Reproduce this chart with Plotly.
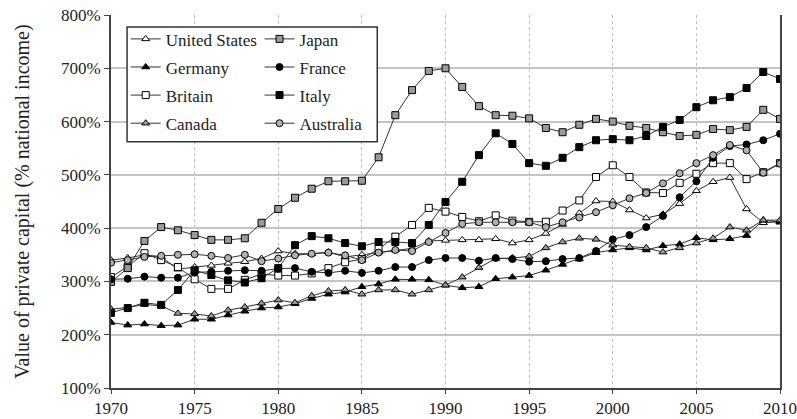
import plotly.graph_objects as go

years = list(range(1970, 2011))

united_states = [340, 344, 350, 346, 323, 327, 330, 334, 337, 343,
                 357, 352, 352, 355, 346, 350, 355, 359, 362, 376,
                 377, 378, 378, 380, 372, 378, 390, 407, 428, 451,
                 450, 434, 419, 426, 446, 470, 487, 495, 436, 410, 412]
germany = [223, 218, 220, 217, 218, 229, 229, 237, 244, 250,
           252, 258, 268, 276, 280, 290, 295, 304, 304, 303,
           293, 288, 290, 305, 308, 311, 321, 332, 342, 354,
           359, 363, 359, 367, 370, 382, 378, 380, 386, 415, 411]
britain = [308, 328, 353, 340, 327, 304, 286, 286, 303, 314,
           311, 311, 315, 325, 336, 342, 361, 384, 406, 438,
           431, 421, 413, 424, 414, 412, 412, 433, 452, 496,
           518, 496, 467, 466, 485, 502, 522, 522, 492, 505, 522]
canada = [248, 251, 257, 254, 240, 239, 235, 246, 252, 259,
          265, 260, 273, 282, 284, 276, 284, 284, 276, 284,
          293, 308, 326, 343, 344, 347, 363, 374, 381, 379,
          368, 365, 363, 355, 363, 372, 381, 402, 396, 415, 415]
japan = [299, 325, 376, 402, 396, 387, 378, 378, 381, 410,
         436, 457, 474, 488, 488, 489, 533, 612, 659, 695,
         700, 665, 629, 612, 611, 606, 588, 580, 594, 605,
         600, 592, 588, 580, 573, 575, 586, 584, 590, 622, 605]
france = [304, 305, 309, 307, 307, 317, 318, 320, 321, 320,
          324, 325, 318, 316, 320, 316, 320, 327, 327, 340,
          344, 344, 339, 344, 342, 337, 338, 342, 344, 357,
          379, 387, 402, 423, 458, 488, 532, 554, 557, 565, 577]
italy = [241, 250, 260, 256, 284, 321, 312, 302, 298, 306,
         325, 368, 385, 381, 372, 366, 374, 374, 372, 406,
         449, 487, 537, 578, 558, 522, 517, 532, 552, 565,
         567, 565, 573, 590, 603, 627, 640, 646, 663, 693, 680]
australia = [335, 340, 346, 348, 350, 351, 348, 344, 350, 338,
             343, 349, 352, 354, 349, 340, 354, 359, 357, 374,
             391, 408, 411, 411, 411, 411, 402, 411, 420, 430,
             443, 456, 466, 484, 503, 522, 537, 556, 546, 504, 521]

y_ticks = [100, 200, 300, 400, 500, 600, 700, 800]
x_ticks = [1970, 1975, 1980, 1985, 1990, 1995, 2000, 2005, 2010]

GRAY = "#9a9a9a"
LINE = "#333333"
FONT = "Liberation Serif"

series = [
    ("United States", united_states, "triangle-up", "white", 7, "legend"),
    ("Germany", germany, "triangle-up", "black", 7, "legend"),
    ("Britain", britain, "square", "white", 7, "legend"),
    ("Canada", canada, "triangle-up", GRAY, 7, "legend"),
    ("Japan", japan, "square", GRAY, 7, "legend2"),
    ("France", france, "circle", "black", 7, "legend2"),
    ("Italy", italy, "square", "black", 7, "legend2"),
    ("Australia", australia, "circle", "#b0b0b0", 7, "legend2"),
]

fig = go.Figure()
for name, vals, sym, fill, size, leg in series:
    fig.add_trace(go.Scatter(
        x=years, y=vals, name=name, mode="lines+markers",
        legend=leg, legendgroup=name,
        line=dict(color=LINE, width=1),
        marker=dict(symbol=sym, size=size, color=fill,
                    line=dict(color="black", width=1)),
    ))

legend_common = dict(
    bgcolor="rgba(0,0,0,0)", borderwidth=0,
    font=dict(family=FONT, size=17, color="#222"),
    tracegroupgap=3, itemwidth=30,
    yanchor="top", xanchor="left",
)

fig.update_layout(
    width=797, height=419,
    margin=dict(l=111, r=17, t=15, b=31),
    paper_bgcolor="white", plot_bgcolor="white",
    font=dict(family=FONT, color="#222"),
    showlegend=True,
    legend=dict(x=0.022, y=0.983, **legend_common),
    legend2=dict(x=0.222, y=0.983, **legend_common),
    xaxis=dict(
        range=[1970, 2010], tickvals=x_ticks,
        ticktext=[str(v) for v in x_ticks],
        showgrid=True, gridcolor="#c0c0c0", griddash="dot", gridwidth=1,
        showline=True, linecolor="#444", linewidth=2, mirror=False,
        ticks="outside", ticklen=4, tickcolor="#444",
        tickfont=dict(family=FONT, size=17, color="#222"),
        zeroline=False, automargin=False,
    ),
    yaxis=dict(
        range=[100, 800], tickvals=y_ticks,
        ticktext=[f"{v}%" for v in y_ticks],
        showgrid=True, gridcolor="#c4c4c4", gridwidth=2,
        showline=True, linecolor="#444", linewidth=2, mirror=True,
        ticks="outside", ticklen=5, tickcolor="#444",
        tickfont=dict(family=FONT, size=17, color="#222"),
        title=dict(text="Value of private capital (% national income)",
                   font=dict(family=FONT, size=20, color="#222"), standoff=26),
        zeroline=False, automargin=False,
    ),
    shapes=[dict(
        type="rect", xref="paper", yref="paper",
        x0=0.024, x1=0.398, y0=0.66, y1=0.968,
        line=dict(color="#333", width=1.5), fillcolor="white", layer="above",
    )],
)

fig.write_html(
    "out.html",
    config={"displayModeBar": False},
    post_script="document.body.style.margin='0';document.body.style.padding='0';",
)
